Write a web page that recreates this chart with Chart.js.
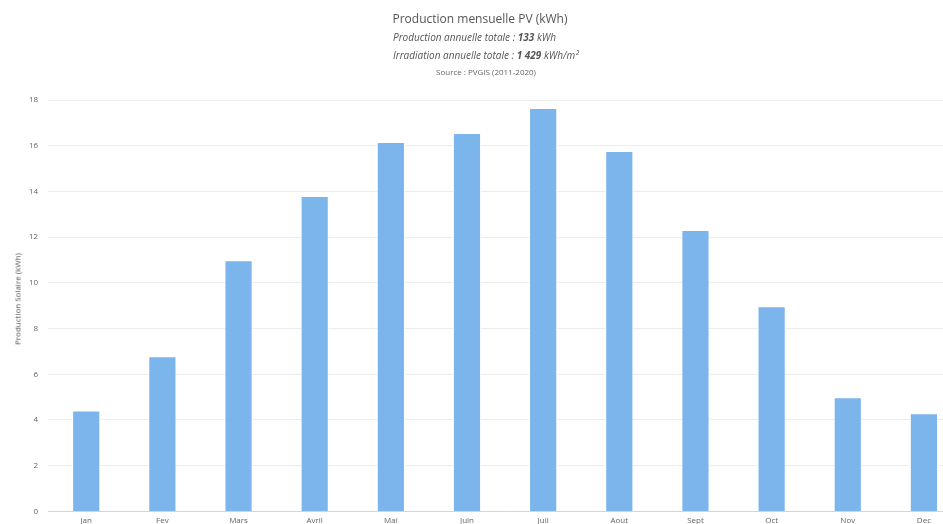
<!DOCTYPE html>
<html>
<head>
<meta charset="utf-8">
<script src="https://cdn.jsdelivr.net/npm/chart.js@4/dist/chart.umd.min.js"></script>
<style>
  html, body { margin: 0; padding: 0; background: #fff; overflow: hidden; }
  #wrap { position: relative; width: 943px; height: 524px; overflow: hidden; }
  canvas { display: block; }
  .t { position: absolute; font-family: "Open Sans", sans-serif; color: #555; white-space: nowrap; }
  #title { top: 10px; left: 480px; transform: translateX(-50%); font-size: 12px; }
  #sub1 { top: 30px; left: 393px; font-size: 10px; font-style: italic; }
  #sub2 { top: 48px; left: 393px; font-size: 10px; font-style: italic; }
  #src { top: 66px; left: 486px; transform: translateX(-50%); font-size: 8px; color: #666; }
  #ytitle { top: 299px; left: 17px; font-size: 8px; transform: translate(-50%, -50%) rotate(-90deg); }
</style>
</head>
<body>
<div id="wrap">
  <canvas id="barChart" width="975" height="531"></canvas>
  <div class="t" id="title">Production mensuelle PV (kWh)</div>
  <div class="t" id="sub1">Production annuelle totale : <b>133</b> kWh</div>
  <div class="t" id="sub2">Irradiation annuelle totale : <b>1 429</b> kWh/m²</div>
  <div class="t" id="src">Source : PVGIS (2011-2020)</div>
  <div class="t" id="ytitle">Production Solaire (kWh)</div>
</div>
<script>
// mois
const months = ['Jan', 'Fev', 'Mars', 'Avril', 'Mai', 'Juin', 'Juil', 'Aout', 'Sept', 'Oct', 'Nov', 'Dec'];
// production en kWh
const production = [4.42, 6.79, 10.99, 13.80, 16.16, 16.56, 17.65, 15.77, 12.31, 8.98, 4.99, 4.29];
const yTicks = [0, 2, 4, 6, 8, 10, 12, 14, 16, 18];

const ctx = document.getElementById('barChart').getContext('2d');
const myChart = new Chart(ctx, {
    type: 'bar',
    data: {
        labels: months,
        datasets: [{
            label: 'Production',
            data: production,
            backgroundColor: '#7cb5ec',
            borderColor: '#ffffff',
            borderWidth: 1,
            barPercentage: 0.37,
            categoryPercentage: 1
        }]
    },
    options: {
        responsive: false,
        animation: false,
        layout: {
            padding: { top: 100, right: 13, bottom: 0, left: 19 }
        },
        plugins: {
            legend: { display: false },
            tooltip: { enabled: false }
        },
        scales: {
            x: {
                grid: { display: false, drawTicks: false },
                border: { color: '#ccd6eb' },
                ticks: {
                    color: '#666',
                    padding: 5,
                    font: { family: 'Open Sans', size: 8 }
                }
            },
            y: {
                min: 0,
                max: 18,
                afterBuildTicks: (axis) => { axis.ticks = yTicks.map(v => ({ value: v })); },
                grid: { color: '#ececec', drawTicks: false },
                border: { display: false },
                ticks: {
                    color: '#666',
                    padding: 10,
                    font: { family: 'Open Sans', size: 8 }
                }
            }
        }
    }
});
</script>
</body>
</html>
